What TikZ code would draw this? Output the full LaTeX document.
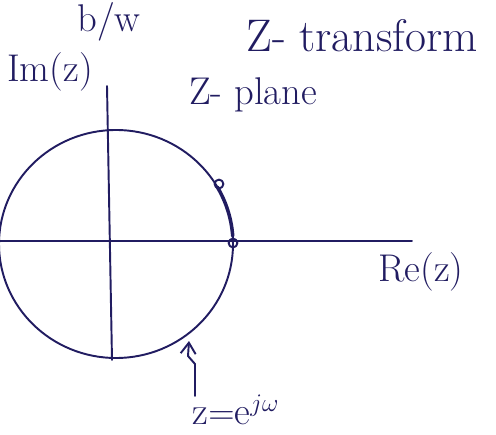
\documentclass[tikz,border=0pt]{standalone}
\usepackage{amsmath}
\usetikzlibrary{arrows.meta}
\definecolor{PlaneInk}{rgb}{0.13,0.11,0.38}
\tikzset{
    zplane/diagram/.style={
        x=0.02cm, y=-0.02cm,
        text=PlaneInk,
        line width=1.1pt,
        line cap=round,
        line join=round,
        every node/.style={inner sep=1pt}
    },
    zplane/axis/.style={draw=PlaneInk, line width=1.1pt},
    zplane/curve/.style={draw=PlaneInk, line width=1.1pt},
    zplane/thick/.style={draw=PlaneInk, line width=2pt},
    zplane/point/.style={circle, draw=PlaneInk, line width=1.1pt, inner sep=0pt, minimum size=5pt},
    zplane/pointer/.style={
        draw=PlaneInk, line width=1.1pt,
        -{Straight Barb[length=2.2mm, width=3mm]}
    },
    zplane/title/.style={font=\fontsize{26}{28}\selectfont},
    zplane/label/.style={font=\fontsize{22}{24}\selectfont}
}
\begin{document}
\begin{tikzpicture}[zplane/diagram]
    \useasboundingbox (0,0) rectangle (496,435);
    % axes
    \coordinate (imtop) at (107,86);
    \coordinate (imbottom) at (112,360);
    \coordinate (releft) at (-5,241);
    \coordinate (reright) at (412,241);
    \draw[zplane/axis] (releft) -- (reright);
    \draw[zplane/axis] (imtop) -- (imbottom);
    % unit circle
    \coordinate (origin) at (116,244);
    \draw[zplane/curve] (origin) ellipse [x radius=117, y radius=114];
    \draw[zplane/thick] ([shift={(30:117 and -114)}]origin)
        arc [start angle=30, end angle=4, x radius=117, y radius=-114];
    \node[zplane/point] (wone) at (219,184) {};
    \node[zplane/point] (wzero) at (233,243) {};
    % texts
    \node[zplane/label] (bw) at (109,22) {b/w};
    \node[zplane/title] (title) at (362,36) {Z- transform};
    \node[zplane/label] (imz) at (50,72) {Im(z)};
    \node[zplane/label] (plane) at (253,95) {Z- plane};
    \node[zplane/label] (rez) at (421,272) {Re(z)};
    \node[zplane/label] (unit) at (236,410) {z$=$e$^{j\omega}$};
    % pointer to the circle
    \coordinate (tail) at (195,396);
    \draw[zplane/pointer] (tail) -- (195,364) -- (188,356) -- (189,341);
\end{tikzpicture}
\end{document}
